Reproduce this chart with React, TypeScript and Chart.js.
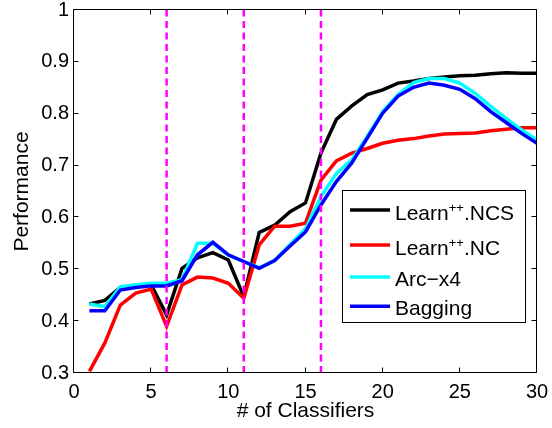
import React, { useEffect, useRef } from 'react';
import { Chart, registerables } from 'chart.js';

Chart.register(...registerables);

// ---- data ----
const classifiers = [1, 2, 3, 4, 5, 6, 7, 8, 9, 10, 11, 12, 13, 14, 15, 16, 17, 18, 19, 20, 21, 22, 23, 24, 25, 26, 27, 28, 29, 30];
const learnNCS = [0.433, 0.44, 0.465, 0.467, 0.47, 0.412, 0.502, 0.522, 0.532, 0.518, 0.447, 0.571, 0.585, 0.611, 0.628, 0.724, 0.789, 0.815, 0.837, 0.846, 0.859, 0.863, 0.868, 0.871, 0.873, 0.874, 0.877, 0.879, 0.878, 0.878];
const learnNC = [0.303, 0.358, 0.431, 0.454, 0.462, 0.39, 0.47, 0.485, 0.483, 0.473, 0.444, 0.547, 0.583, 0.583, 0.589, 0.672, 0.709, 0.724, 0.733, 0.743, 0.749, 0.752, 0.757, 0.761, 0.762, 0.763, 0.767, 0.77, 0.773, 0.773];
const arcX4 = [0.433, 0.428, 0.466, 0.47, 0.473, 0.473, 0.48, 0.55, 0.55, 0.527, 0.515, 0.503, 0.517, 0.548, 0.578, 0.64, 0.685, 0.711, 0.756, 0.804, 0.837, 0.86, 0.868, 0.868, 0.859, 0.839, 0.814, 0.791, 0.769, 0.749];
const bagging = [0.42, 0.42, 0.46, 0.465, 0.468, 0.468, 0.478, 0.528, 0.552, 0.528, 0.515, 0.502, 0.517, 0.545, 0.572, 0.624, 0.669, 0.705, 0.753, 0.801, 0.834, 0.851, 0.859, 0.855, 0.847, 0.829, 0.804, 0.783, 0.762, 0.743];
const seriesLabels = ['Learn++.NCS', 'Learn++.NC', 'Arc\u2212x4', 'Bagging'];
const seriesColors = ['#000000', '#ff0000', '#00ffff', '#0000ff'];
const markerPositions = [6, 11, 16];
const xTicks = [0, 5, 10, 15, 20, 25, 30];
const yTicks = [0.3, 0.4, 0.5, 0.6, 0.7, 0.8, 0.9, 1];
const xLabel = '# of Classifiers';
const yLabel = 'Performance';

const FONT = "'Liberation Sans', Arial, Helvetica, sans-serif";

function drawRich(ctx: CanvasRenderingContext2D, text: string, x: number, y: number) {
  const parts = text.split('++');
  ctx.font = `21px ${FONT}`;
  ctx.fillText(parts[0], x, y);
  let cx = x + ctx.measureText(parts[0]).width;
  if (parts.length > 1) {
    ctx.font = `13px ${FONT}`;
    ctx.fillText('++', cx, y - 8);
    cx += ctx.measureText('++').width;
    ctx.font = `21px ${FONT}`;
    ctx.fillText(parts[1], cx, y);
  }
}

const framePlugin = {
  id: 'matlabFrame',
  afterDatasetsDraw(chart: any) {
    const { ctx, chartArea } = chart;
    const { left, right, top, bottom } = chartArea;
    const xs = chart.scales.x;
    const ys = chart.scales.y;
    ctx.save();
    ctx.strokeStyle = '#000';
    ctx.lineWidth = 1;
    const L = Math.round(left) - 0.5;
    const R = Math.round(right) - 0.5;
    const T = Math.round(top) - 0.5;
    const B = Math.round(bottom) - 0.5;
    ctx.beginPath();
    ctx.rect(L, T, R - L, B - T);
    ctx.stroke();
    const tl = 5;
    ctx.beginPath();
    xTicks.forEach((v) => {
      const px = Math.round(xs.getPixelForValue(v)) - 0.5;
      ctx.moveTo(px, B);
      ctx.lineTo(px, B - tl);
      ctx.moveTo(px, T);
      ctx.lineTo(px, T + tl);
    });
    yTicks.forEach((v) => {
      const py = Math.round(ys.getPixelForValue(v)) - 0.5;
      ctx.moveTo(L, py);
      ctx.lineTo(L + tl, py);
      ctx.moveTo(R, py);
      ctx.lineTo(R - tl, py);
    });
    ctx.stroke();
    ctx.restore();
  },
  afterDraw(chart: any) {
    const { ctx, chartArea } = chart;
    const bx = chartArea.right - 194.5;
    const by = chartArea.top + 180.5;
    const bw = 183;
    const bh = 132;
    ctx.save();
    ctx.fillStyle = '#fff';
    ctx.fillRect(bx, by, bw, bh);
    ctx.strokeStyle = '#000';
    ctx.lineWidth = 1;
    ctx.strokeRect(bx, by, bw, bh);
    const lineYs = [19.5, 54.5, 86.5, 115.8];
    const baseYs = [29.5, 64.5, 95.5, 124.8];
    seriesLabels.forEach((label, i) => {
      ctx.strokeStyle = seriesColors[i];
      ctx.lineWidth = 3.5;
      ctx.beginPath();
      ctx.moveTo(bx + 7.5, by + lineYs[i]);
      ctx.lineTo(bx + 47.5, by + lineYs[i]);
      ctx.stroke();
      ctx.fillStyle = '#000';
      ctx.textBaseline = 'alphabetic';
      ctx.textAlign = 'left';
      drawRich(ctx, label, bx + 52.5, by + baseYs[i]);
    });
    ctx.restore();
  },
};

function zeroPad(s: any) {
  s.paddingTop = 0;
  s.paddingBottom = 0;
  s.paddingLeft = 0;
  s.paddingRight = 0;
}

export default function App() {
  const canvasRef = useRef<HTMLCanvasElement | null>(null);

  useEffect(() => {
    if (!canvasRef.current) return;
    const seriesData = [learnNCS, learnNC, arcX4, bagging];
    const lineSets = seriesData.map((arr, i) => ({
      label: seriesLabels[i],
      data: classifiers.map((x, j) => ({ x, y: arr[j] })),
      borderColor: seriesColors[i],
      backgroundColor: seriesColors[i],
      borderWidth: 3.5,
      pointRadius: 0,
      tension: 0,
      fill: false,
      borderJoinStyle: 'miter' as const,
    }));
    const markerSets = markerPositions.map((m) => ({
      label: 'marker' + m,
      data: [
        { x: m, y: yTicks[0] },
        { x: m, y: yTicks[yTicks.length - 1] },
      ],
      borderColor: '#ff00ff',
      backgroundColor: '#ff00ff',
      borderWidth: 2.5,
      borderDash: [7, 4.5],
      pointRadius: 0,
      fill: false,
    }));
    // Chart.js draws dataset 0 last (on top)
    const datasets = [...markerSets, ...lineSets.slice().reverse()];

    const chart = new Chart(canvasRef.current, {
      type: 'line',
      data: { datasets: datasets as any },
      options: {
        animation: false,
        responsive: false,
        events: [],
        layout: { padding: { top: 10, right: 15, left: 0, bottom: 0 } },
        plugins: {
          legend: { display: false },
          tooltip: { enabled: false },
        },
        scales: {
          x: {
            type: 'linear',
            min: xTicks[0],
            max: xTicks[xTicks.length - 1],
            grid: { display: false, drawTicks: false },
            border: { display: false },
            afterBuildTicks: (s: any) => {
              s.ticks = xTicks.map((v) => ({ value: v }));
            },
            afterFit: (s: any) => {
              s.height = 55;
              zeroPad(s);
            },
            ticks: {
              color: '#000',
              padding: 7,
              maxRotation: 0,
              autoSkip: false,
              font: { family: FONT, size: 20 },
              callback: (v: any) => String(v),
            },
            title: {
              display: true,
              text: xLabel,
              color: '#000',
              font: { family: FONT, size: 21 },
              padding: { top: 0, bottom: 4.4 },
            },
          },
          y: {
            type: 'linear',
            min: yTicks[0],
            max: yTicks[yTicks.length - 1],
            grid: { display: false, drawTicks: false },
            border: { display: false },
            afterBuildTicks: (s: any) => {
              s.ticks = yTicks.map((v) => ({ value: v }));
            },
            afterFit: (s: any) => {
              s.width = 74;
              zeroPad(s);
            },
            ticks: {
              color: '#000',
              padding: 5,
              autoSkip: false,
              font: { family: FONT, size: 20, lineHeight: 1 },
              callback: (v: any) => String(Math.round(Number(v) * 10) / 10),
            },
            title: {
              display: true,
              text: yLabel,
              color: '#000',
              font: { family: FONT, size: 21 },
              padding: { top: 9.4, bottom: 0 },
            },
          },
        },
      },
      plugins: [framePlugin],
    });
    return () => chart.destroy();
  }, []);

  return (
    <div style={{ position: 'absolute', left: 0, top: 0, width: 552, height: 428, background: '#fff' }}>
      <canvas ref={canvasRef} width={552} height={428} style={{ display: 'block' }} />
    </div>
  );
}
